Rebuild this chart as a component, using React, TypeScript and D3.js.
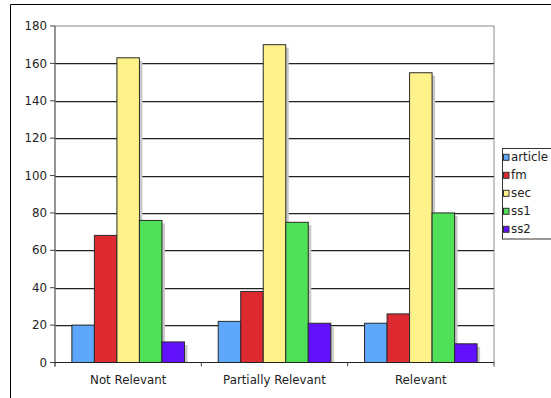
import React from "react";
import * as d3 from "d3";

const categories = ["Not Relevant", "Partially Relevant", "Relevant"];
const seriesNames = ["article", "fm", "sec", "ss1", "ss2"];
const seriesColors = ["#5ea8fb", "#dc2a30", "#fff28a", "#4fe058", "#6212fb"];
const article = [20, 22, 21];
const fm = [68, 38, 26];
const sec = [163, 170, 155];
const ss1 = [76, 75, 80];
const ss2 = [11, 21, 10];
const yTicks = [0, 20, 40, 60, 80, 100, 120, 140, 160, 180];

const seriesValues = [article, fm, sec, ss1, ss2];

const W = 551;
const H = 398;
const plot = { left: 55, right: 494, top: 26, bottom: 362.5 };
const font = "'DejaVu Sans', Verdana, sans-serif";
const labelSize = 11.8;

export default function App() {
  const x0 = d3
    .scaleBand<string>()
    .domain(categories)
    .range([plot.left, plot.right])
    .paddingInner(0)
    .paddingOuter(0);
  // 150% gap between groups: 5 bars + 1.5 bar widths per category
  const groupInset = (x0.bandwidth() * 0.75) / 6.5;
  const x1 = d3
    .scaleBand<string>()
    .domain(seriesNames)
    .range([groupInset, x0.bandwidth() - groupInset])
    .padding(0);
  const y = d3.scaleLinear().domain([0, 180]).range([plot.bottom, plot.top]);

  const boundaries = d3.range(categories.length + 1).map((i) => plot.left + i * x0.bandwidth());

  return (
    <svg
      width={W}
      height={H}
      style={{ position: "absolute", left: 0, top: 0, background: "#fff" }}
      fontFamily={font}
    >
      {/* outer frame */}
      <line x1={10.5} y1={4.5} x2={W} y2={4.5} stroke="#000" strokeWidth={1} />
      <line x1={10.5} y1={4.5} x2={10.5} y2={H} stroke="#000" strokeWidth={1} />

      {/* plot area border */}
      <rect
        x={plot.left}
        y={plot.top}
        width={plot.right - plot.left}
        height={plot.bottom - plot.top}
        fill="#fff"
        stroke="#8a8a8a"
        strokeWidth={1}
      />

      {/* horizontal gridlines */}
      {yTicks
        .filter((t) => t > 0 && t < 180)
        .map((t) => (
          <g key={`g${t}`}>
            <line
              x1={plot.left}
              x2={plot.right}
              y1={Math.round(y(t)) + 1.5}
              y2={Math.round(y(t)) + 1.5}
              stroke="#c4c4c4"
              strokeWidth={1}
            />
            <line
              x1={plot.left}
              x2={plot.right}
              y1={Math.round(y(t)) + 0.5}
              y2={Math.round(y(t)) + 0.5}
              stroke="#222"
              strokeWidth={1}
            />
          </g>
        ))}

      {/* bars with drop shadows */}
      {categories.map((c, ci) => (
        <g key={c} transform={`translate(${x0(c)},0)`}>
          {seriesNames.map((s, si) => {
            const v = seriesValues[si][ci];
            const bx = x1(s)!;
            const by = y(v);
            return (
              <rect
                key={`sh${s}`}
                x={bx + 3}
                y={by + 3}
                width={x1.bandwidth()}
                height={plot.bottom - by - 3}
                fill="#c8c8c8"
              />
            );
          })}
          {seriesNames.map((s, si) => {
            const v = seriesValues[si][ci];
            const bx = x1(s)!;
            const by = y(v);
            return (
              <rect
                key={s}
                x={bx}
                y={by}
                width={x1.bandwidth()}
                height={plot.bottom - by}
                fill={seriesColors[si]}
                stroke="#2a2a2a"
                strokeWidth={1}
              />
            );
          })}
        </g>
      ))}

      {/* axes */}
      <line x1={plot.left} x2={plot.left} y1={plot.top} y2={plot.bottom + 4} stroke="#666" />
      <line x1={plot.left - 5} x2={plot.right} y1={plot.bottom} y2={plot.bottom} stroke="#222" />
      {yTicks.map((t) => (
        <g key={`t${t}`}>
          <line x1={plot.left - 5} x2={plot.left} y1={y(t)} y2={y(t)} stroke="#444" />
          <text
            x={plot.left - 8}
            y={y(t)}
            dy="0.35em"
            textAnchor="end"
            fontSize={labelSize}
            fill="#222"
          >
            {t}
          </text>
        </g>
      ))}
      {boundaries.map((bx, i) => (
        <line key={`b${i}`} x1={bx} x2={bx} y1={plot.bottom} y2={plot.bottom + 4} stroke="#444" />
      ))}
      {categories.map((c) => (
        <text
          key={`l${c}`}
          x={x0(c)! + x0.bandwidth() / 2}
          y={384}
          textAnchor="middle"
          fontSize={labelSize}
          fill="#222"
        >
          {c}
        </text>
      ))}

      {/* legend */}
      <rect x={502.5} y={148.5} width={60} height={90.5} fill="#fff" stroke="#333" strokeWidth={1} />
      {seriesNames.map((s, i) => {
        const cy = 157.3 + i * 18;
        return (
          <g key={`lg${s}`}>
            <rect x={503.5} y={cy - 3} width={5.5} height={6} fill={seriesColors[i]} stroke="#333" strokeWidth={1} />
            <text x={511} y={cy} dy="0.35em" fontSize={labelSize} fill="#222">
              {s}
            </text>
          </g>
        );
      })}
    </svg>
  );
}
